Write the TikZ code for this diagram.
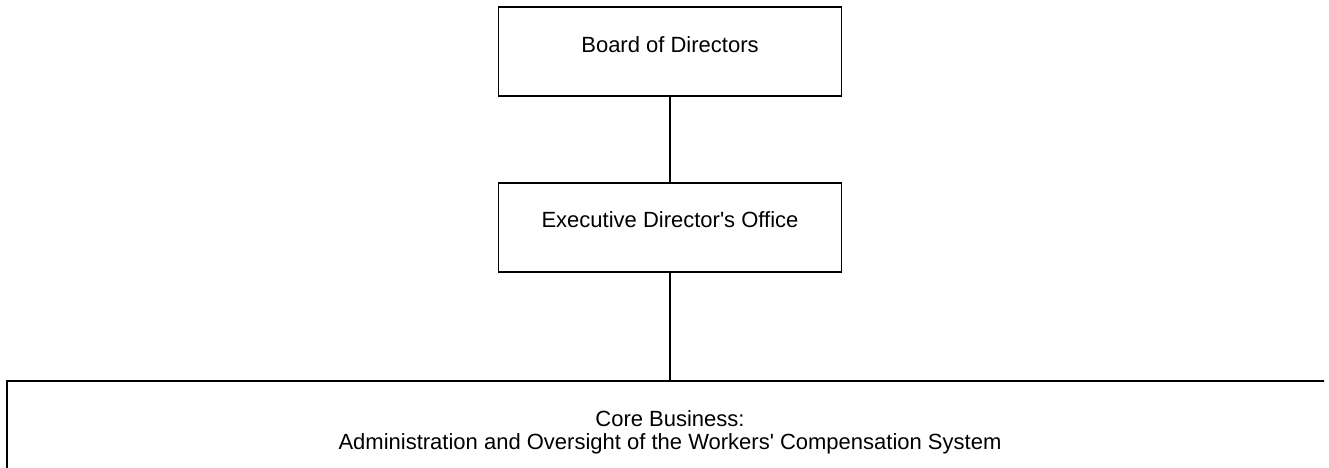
\documentclass[tikz,border=0pt]{standalone}
\usepackage{fontspec}
\setmainfont{Liberation Sans}
\begin{document}
\begin{tikzpicture}[x=0.75pt,y=-0.75pt,
  box/.style={draw=black, line width=1.1pt, rectangle, inner sep=0pt, minimum width=257.25pt, minimum height=66.75pt},
  widebox/.style={draw=black, line width=1.1pt, rectangle, inner sep=0pt, minimum width=994.5pt, minimum height=84pt},
  lbl/.style={font=\fontsize{16.5pt}{17.5pt}\selectfont, anchor=base, inner sep=0pt},
  conn/.style={draw=black, line width=1.1pt}]
\useasboundingbox (0,0) rectangle (1329,468);
\fill[white] (0,0) rectangle (1329,468);
\begin{scope}
\clip (0,0) rectangle (1324,468);
\node[box] (b1) at (670,51.5) {};
\node[box] (b2) at (670,227.5) {};
\node[widebox] (b3) at (670,437) {};
\node[lbl] (t1) at (670,52) {Board of Directors};
\node[lbl] (t2) at (670,227) {Executive Director\textquotesingle s Office};
\node[lbl] (t3a) at (670,426) {Core Business:};
\node[lbl] (t3b) at (670,449) {Administration and Oversight of the Workers\textquotesingle\ Compensation System};
\draw[conn] (b1.south) -- (b2.north);
\draw[conn] (b2.south) -- (b3.north);
\end{scope}
\end{tikzpicture}
\end{document}
